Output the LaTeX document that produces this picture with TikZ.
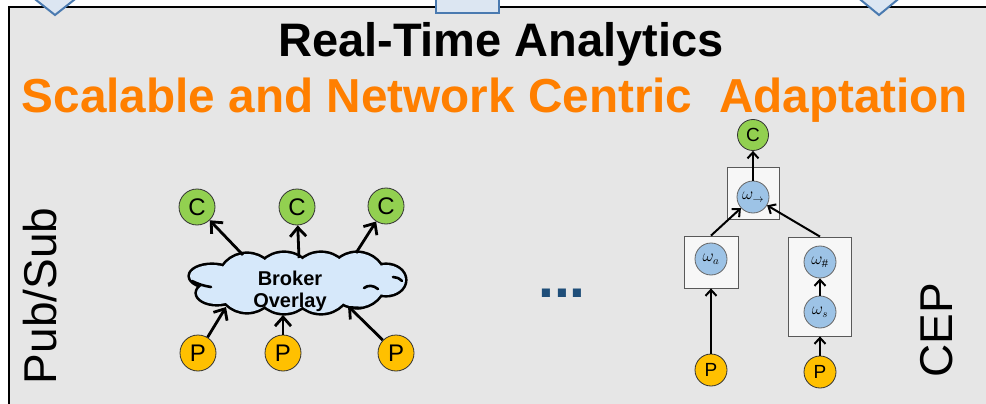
\documentclass[tikz,border=0pt]{standalone}
\usepackage{fontspec}
\setmainfont{Liberation Sans}
\usetikzlibrary{arrows.meta}

\definecolor{panel}{HTML}{E6E6E6}
\definecolor{accent}{HTML}{FF7F00}
\definecolor{cgreen}{HTML}{92D050}
\definecolor{pgold}{HTML}{FFC000}
\definecolor{opblue}{HTML}{9DC3E6}
\definecolor{cloudblue}{HTML}{D6E8FA}
\definecolor{navy}{HTML}{1F4E79}
\definecolor{flowfill}{HTML}{DCE6F2}
\definecolor{flowline}{HTML}{4A7AB0}

\tikzset{
  flowshape/.style={fill=flowfill, draw=flowline, line width=2pt, line join=miter},
  bigarr/.style={line width=2.8pt, -{Straight Barb[length=9pt,width=16pt]}},
  treearr/.style={line width=2pt, -{Straight Barb[length=6pt,width=11pt]}},
  cnode/.style={circle, fill=cgreen, draw=black!80, line width=0.8pt,
    minimum size=36pt, inner sep=0pt, font=\fontsize{24}{24}\selectfont},
  pnode/.style={cnode, fill=pgold},
  cnodesm/.style={cnode, minimum size=31pt, font=\fontsize{19}{19}\selectfont},
  pnodesm/.style={cnodesm, minimum size=32pt, fill=pgold},
  opnode/.style={circle, fill=opblue, draw=black!60, line width=0.8pt,
    minimum size=32pt, inner sep=0pt, font=\fontsize{16}{16}\selectfont},
  opbox/.style={rectangle, fill=white!97!black, draw=black!65, line width=0.8pt,
    inner sep=0pt},
  sidelabel/.style={rotate=90, font=\fontsize{46}{46}\selectfont},
  curl/.style={line width=2.6pt, line cap=round},
}

% lobes of the broker cloud; their union is the cloud
\def\brokerlobes{%
  (212,276) ellipse [x radius=22, y radius=11]
  (217,293) ellipse [x radius=20, y radius=11]
  (247,283) circle [radius=29]
  (284,283) circle [radius=30]
  (321,283) circle [radius=30]
  (357,280) ellipse [x radius=28, y radius=27]
  (386,280) ellipse [x radius=19, y radius=15]}

\begin{document}
\begin{tikzpicture}[x=1pt,y=-1pt]
\useasboundingbox (0,0) rectangle (986,404);

% panel
\fill[panel] (9,7) rectangle (1000,420);
\draw[line width=2.4pt] (9,420) -- (9,7) -- (1000,7);

% flow shapes entering from above
\filldraw[flowshape] (31,-4) -- (55,15) -- (79,-4) -- cycle;
\filldraw[flowshape] (436,-4) rectangle (499,13);
\filldraw[flowshape] (856,-4) -- (879,15) -- (902,-4) -- cycle;

% headings
\node[anchor=base, inner sep=0pt, font=\bfseries\fontsize{47}{47}\selectfont]
  (title) at (501,57) {Real-Time Analytics};
\node[anchor=base, inner sep=0pt, text=accent, font=\bfseries\fontsize{47.7}{47.7}\selectfont]
  (subtitle) at (495,112) {Scalable and Network Centric\ \ Adaptation};

% side labels
\node[sidelabel] (pubsub) at (40,296) {Pub/Sub};
\node[sidelabel] (cep) at (937,330) {CEP};

% ---- publish/subscribe ----
% outline: thick stroke of every lobe, then the fill hides the inner half
\draw[line width=5.2pt] \brokerlobes;
\fill[cloudblue] \brokerlobes;
% inner curls of the cloud
\draw[curl] (192,281) .. controls (198,284) and (204,286) .. (211,287);
\draw[curl] (364,288) .. controls (368,285) and (373,285) .. (378,289);
\draw[curl] (393,277) .. controls (396,277) and (399,278) .. (402,281);

\node[align=center, inner sep=0pt, font=\bfseries\fontsize{20}{22}\selectfont]
  (brokerlbl) at (290,291) {Broker\\Overlay};

\node[cnode] (c1) at (197,207) {C};
\node[cnode] (c2) at (297,207) {C};
\node[cnode] (c3) at (386,206) {C};
\node[pnode] (p1) at (198,353) {P};
\node[pnode] (p2) at (283,353) {P};
\node[pnode] (p3) at (396,353) {P};

\coordinate (out1) at (243,255);
\coordinate (out2) at (299,258);
\coordinate (out3) at (356,253);
\coordinate (in1) at (226,307);
\coordinate (in2) at (283,315);
\coordinate (in3) at (348,306);

\draw[bigarr] (out1) -- (c1);
\draw[bigarr] (out2) -- (c2);
\draw[bigarr] (out3) -- (c3);
\draw[bigarr] (p1) -- (in1);
\draw[bigarr] (p2) -- (in2);
\draw[bigarr] (p3) -- (in3);

% ellipsis between the two approaches
\node[anchor=base, inner sep=0pt, text=navy, font=\bfseries\fontsize{57}{57}\selectfont]
  (dots) at (562,297) {...};

% ---- CEP operator graph ----
\node[opbox, minimum width=52pt, minimum height=52pt] (boxseq) at (753,193) {};
\node[opbox, minimum width=54pt, minimum height=52pt] (boxa) at (711,262) {};
\node[opbox, minimum width=63pt, minimum height=99pt] (boxb) at (820,286.5) {};

\node[cnodesm] (ctop) at (753,135) {C};
\node[opnode] (opseq) at (753,197) {$\omega_{\rightarrow}$};
\node[opnode] (opa) at (711,259) {$\omega_{a}$};
\node[opnode] (ophash) at (820,262) {$\omega_{\#}$};
\node[opnode] (ops) at (820,312) {$\omega_{s}$};
\node[pnodesm] (pa) at (711,370) {P};
\node[pnodesm] (pb) at (820,372) {P};

\draw[treearr] (opseq) -- (ctop);
\draw[treearr] (boxa.north) -- (opseq);
\draw[treearr] (boxb.north) -- (opseq);
\draw[treearr] (ops) -- (ophash);
\draw[treearr] (pa) -- (boxa.south);
\draw[treearr] (pb) -- (boxb.south);
\end{tikzpicture}
\end{document}
